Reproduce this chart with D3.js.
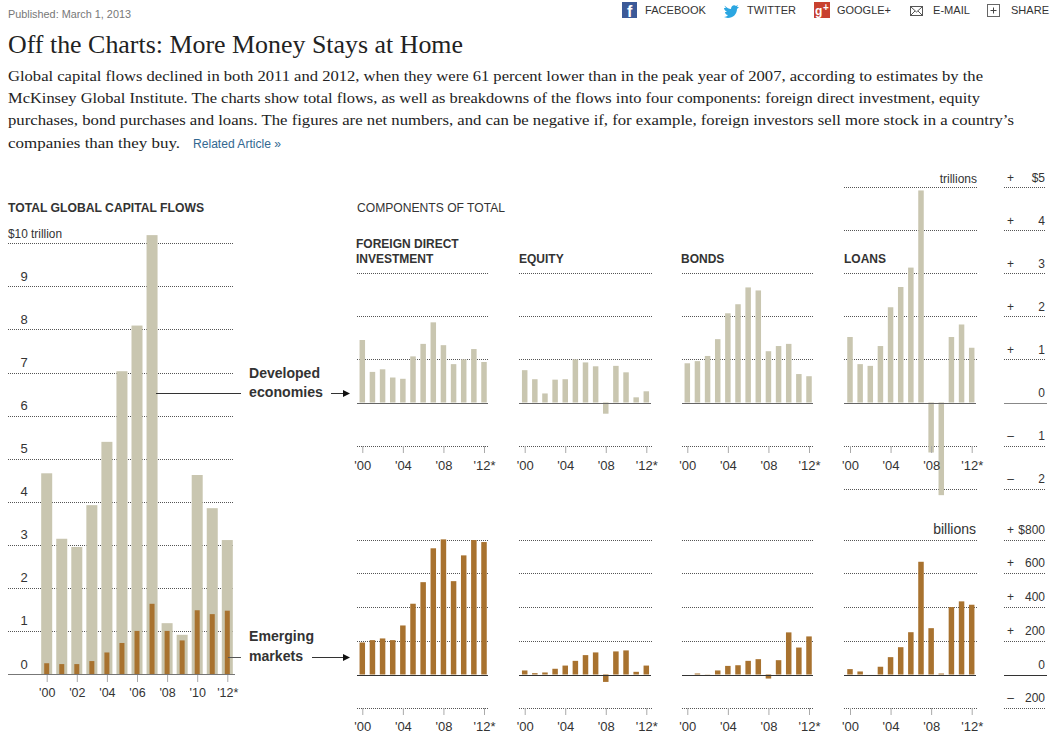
<!DOCTYPE html>
<html><head><meta charset="utf-8">
<script src="https://cdn.jsdelivr.net/npm/d3@7/dist/d3.min.js"></script>
<style>
html,body{margin:0;padding:0;background:#fff;overflow:hidden}
svg{display:block}
text{font-family:"Liberation Sans",Arial,sans-serif;fill:#333}
.serif{font-family:"Liberation Serif",Georgia,serif;fill:#222}
.bold{font-weight:bold}
.axis path{display:none}
</style></head><body>
<svg id="c" width="1054" height="743"></svg>
<script>
const years = d3.range(2000, 2013);
const tickYearsAll = [2000,2002,2004,2006,2008,2010,2012];
const tickYearsPanel = [2000,2004,2008,2012];

const totalDeveloped = [4.66,3.14,2.95,3.92,5.39,7.03,8.09,10.19,1.18,0.91,4.62,3.85,3.11];
const totalEmerging  = [0.25,0.23,0.23,0.30,0.50,0.72,1.00,1.63,1.00,0.78,1.48,1.39,1.47];

const fdiDeveloped   = [1.45,0.71,0.77,0.58,0.55,1.07,1.36,1.86,1.33,0.89,1.00,1.24,0.94];
const equityDeveloped= [0.75,0.54,0.21,0.53,0.54,1.00,0.93,0.84,-0.26,0.85,0.70,0.12,0.26];
const bondsDeveloped = [0.91,0.96,1.08,1.47,2.07,2.28,2.67,2.60,1.19,1.31,1.36,0.66,0.61];
const loansDeveloped = [1.52,0.89,0.85,1.31,2.21,2.68,3.13,4.92,-1.16,-2.15,1.52,1.81,1.27];

const fdiEmerging    = [190,204,214,204,291,420,548,749,802,554,707,798,786];
const equityEmerging = [24,8,12,34,53,81,115,131,-44,137,143,16,53];
const bondsEmerging  = [0,6,1,24,51,55,81,91,-24,85,250,160,226];
const loansEmerging  = [32,18,0,46,103,162,251,669,275,6,400,434,414];

const panelNames = ["fdi","equity","bonds","loans"];
const panelFirstX = [362.3,524.7,687.3,850];
const panelLastX  = [484,646.3,809,971.7];
const panelGridL  = [357,519,682,844];
const panelGridR  = [489,652,814,977];
const panelTitles = [["FOREIGN DIRECT","INVESTMENT"],["EQUITY"],["BONDS"],["LOANS"]];
const panelTitleX = [356,519,681,844];

const developedSeries = [fdiDeveloped,equityDeveloped,bondsDeveloped,loansDeveloped];
const emergingSeries  = [fdiEmerging,equityEmerging,bondsEmerging,loansEmerging];

const devGridNormal = [3,2,1,-1];
const devGridLoans  = [5,4,3,2,1,-1,-2];
const emGrid        = [800,600,400,200,-200];
const totalGrid     = [1,2,3,4,5,6,7,8,9,10];

const headLines = [
 "Global capital flows declined in both 2011 and 2012, when they were 61 percent lower than in the peak year of 2007, according to estimates by the",
 "McKinsey Global Institute. The charts show total flows, as well as breakdowns of the flows into four components: foreign direct investment, equity",
 "purchases, bond purchases and loans. The figures are net numbers, and can be negative if, for example, foreign investors sell more stock in a country\u2019s",
 "companies than they buy."
];
const headLineWidths = [975,972,1006,172];
const headLineY = [81,103,125,148];

const TAN = "#c9c6b0", BROWN = "#a8722f", DOT = "#555";
const svg = d3.select("#c");

function txt(x,y,s,size,opt={}){
  const t = svg.append("text").attr("x",x).attr("y",y).attr("font-size",size).text(s);
  if(opt.anchor) t.attr("text-anchor",opt.anchor);
  if(opt.cls) t.attr("class",opt.cls);
  if(opt.fill) t.style("fill",opt.fill);
  if(opt.len) t.attr("textLength",opt.len).attr("lengthAdjust","spacingAndGlyphs");
  if(opt.ls) t.attr("letter-spacing",opt.ls);
  return t;
}
const fmtYear = y => "'" + String(y).slice(2) + (y===2012 ? "*" : "");

/* Header */
txt(8,17.5,"Published: March 1, 2013",10.5,{fill:"#777",len:123});
txt(8,52.5,"Off the Charts: More Money Stays at Home",25,{cls:"serif",len:455});
headLines.forEach((l,i)=>txt(8,headLineY[i],l,15.5,{cls:"serif",len:headLineWidths[i]}));
txt(193,147.5,"Related Article \u00bb",12,{fill:"#326891",len:88});

/* Share bar */
const share = [["FACEBOOK",645,61],["TWITTER",747,49],["GOOGLE+",837,54],["E-MAIL",933,37],["SHARE",1011,38]];
share.forEach(d=>txt(d[1],14,d[0],11,{len:d[2],fill:"#333"}));
svg.append("rect").attr("x",622).attr("y",2).attr("width",15).attr("height",16).attr("fill","#3b5998");
txt(627,17,"f",16,{cls:"bold",fill:"#fff"});
svg.append("path").attr("fill","#2ba6e1")
  .attr("d","M725 6c2 2 4 3 6 3 0-3 3-5 5-3l2-1-1 2 2 0-2 2c0 5-4 9-9 9-2 0-3-1-4-1 2 0 3-1 4-2-2 0-3-2-3-3l2 0c-2-1-3-3-3-4l2 0c-1-1-2-3-1-2z");
svg.append("rect").attr("x",814).attr("y",2).attr("width",16).attr("height",16).attr("fill","#c8412f");
txt(815,15,"g",12,{cls:"bold",fill:"#fff"});
txt(823,11,"+",10,{cls:"bold",fill:"#fff"});
svg.append("rect").attr("x",910.5).attr("y",6.5).attr("width",12).attr("height",9).attr("fill","none").attr("stroke","#555");
svg.append("path").attr("d","M911 7l5.500 5 5.500-5M911 15l4-4M922 15l-4-4").attr("fill","none").attr("stroke","#555");
svg.append("rect").attr("x",987.5).attr("y",4.5).attr("width",12).attr("height",12).attr("fill","none").attr("stroke","#666");
svg.append("path").attr("d","M990.500 10.500h6M993.500 7.500v6").attr("fill","none").attr("stroke","#444");

/* Section titles */
txt(8,211.5,"TOTAL GLOBAL CAPITAL FLOWS",12,{cls:"bold",len:196});
txt(357,211.5,"COMPONENTS OF TOTAL",12,{len:148});

function grid(values,y,x0,x1){
  const g = svg.append("g").attr("class","grid");
  g.selectAll("line").data(values).join("line")
   .attr("x1",x0).attr("x2",x1)
   .attr("y1",d=>Math.round(y(d))+.5).attr("y2",d=>Math.round(y(d))+.5)
   .attr("stroke",DOT).attr("stroke-dasharray","1,1");
}
function bars(data,x,y,w,color){
  svg.append("g").selectAll("rect").data(data).join("rect")
   .attr("x",(d,i)=>x(years[i])-w/2).attr("width",w)
   .attr("y",d=>y(Math.max(0,d))).attr("height",d=>Math.abs(y(d)-y(0)))
   .attr("fill",color);
}
function baseline(y,x0,x1,color){
  svg.append("line").attr("x1",x0).attr("x2",x1)
   .attr("y1",Math.round(y(0))+.5).attr("y2",Math.round(y(0))+.5).attr("stroke",color);
}
function xAxis(x,ticks,yPos,len,pad,size){
  const ax = svg.append("g").attr("class","axis")
    .attr("transform",`translate(0,${yPos})`)
    .call(d3.axisBottom(x).tickValues(ticks).tickFormat(fmtYear).tickSize(len).tickPadding(pad));
  ax.selectAll("line").attr("stroke","#aaa");
  ax.selectAll("text").attr("font-size",size).attr("font-family",null).attr("fill",null);
  ax.attr("font-family",null).attr("font-size",null);
}

/* Left chart */
const xTotal = d3.scaleLinear().domain([2000,2012]).range([46.7,227.3]);
const yTotal = d3.scaleLinear().domain([0,10]).range([674,243.3]);
grid(totalGrid,yTotal,8,234);
bars(totalDeveloped,xTotal,yTotal,11,TAN);
bars(totalEmerging,xTotal,yTotal,5,BROWN);
baseline(yTotal,8,235,"#777");
xAxis(xTotal,tickYearsAll,675,7,6,12.5);
txt(8,238,"$10 trillion",12,{len:54});
totalGrid.filter(d=>d<10).concat([0]).forEach(v=>txt(24,yTotal(v)-5.5,String(v),13,{anchor:"middle"}));

/* Panels */
const yDev = d3.scaleLinear().domain([0,1]).range([402.5,359.4]);
const yEm  = d3.scaleLinear().domain([0,200]).range([674.5,640.8]);
panelNames.forEach((name,i)=>{
  const x = d3.scaleLinear().domain([2000,2012]).range([panelFirstX[i],panelLastX[i]]);
  grid(i===3?devGridLoans:devGridNormal,yDev,panelGridL[i],panelGridR[i]);
  bars(developedSeries[i],x,yDev,5.5,TAN);
  baseline(yDev,panelGridL[i],panelGridR[i]-1,"#666");
  xAxis(x,tickYearsPanel,446,7,8,13);

  grid(emGrid,yEm,panelGridL[i],panelGridR[i]);
  bars(emergingSeries[i],x,yEm,5.5,BROWN);
  baseline(yEm,panelGridL[i],panelGridR[i]-1,"#333");
  xAxis(x,tickYearsPanel,708,7,7,13);

  const lines = panelTitles[i];
  lines.forEach((l,k)=>txt(panelTitleX[i],262.500-(lines.length-1-k)*14.5,l,12,{cls:"bold"}));
});

/* Right scales */
const devRight = [[5,"$5"],[4,"4"],[3,"3"],[2,"2"],[1,"1"],[-1,"1"],[-2,"2"]];
grid(devRight.map(d=>d[0]),yDev,1004,1046);
baseline(yDev,1004,1047,"#888");
devRight.forEach(d=>{
  txt(1010.500,yDev(d[0])-5.500,d[0]>0?"+":"\u2013",12,{anchor:"middle"});
  txt(1045,yDev(d[0])-5.500,d[1],12,{anchor:"end"});
});
txt(1045,yDev(0)-5.500,"0",12,{anchor:"end"});
txt(977,182.500,"trillions",12,{anchor:"end"});

const emRight = [[800,"$800"],[600,"600"],[400,"400"],[200,"200"],[-200,"200"]];
grid(emRight.map(d=>d[0]),yEm,1004,1046);
baseline(yEm,1004,1047,"#333");
emRight.forEach(d=>{
  txt(1010.500,yEm(d[0])-6,d[0]>0?"+":"\u2013",12,{anchor:"middle"});
  txt(1045,yEm(d[0])-6,d[1],12,{anchor:"end"});
});
txt(1045,yEm(0)-6,"0",12,{anchor:"end"});
txt(976,534,"billions",14,{anchor:"end"});

/* Annotations */
function arrow(x0,x1,y){
  svg.append("line").attr("x1",x0).attr("x2",x1-4).attr("y1",y).attr("y2",y).attr("stroke","#333");
  svg.append("path").attr("d",`M${x1} ${y}l-7-3.500v7z`).attr("fill","#111");
}
txt(249,378,"Developed",14,{cls:"bold",len:71});
txt(249,397,"economies",14,{cls:"bold",len:74});
txt(249,641,"Emerging",14,{cls:"bold",len:65});
txt(249,661,"markets",14,{cls:"bold",len:54});
svg.append("line").attr("x1",156).attr("x2",241).attr("y1",393.5).attr("y2",393.5).attr("stroke","#333");
arrow(331,350,393.5);
svg.append("line").attr("x1",228).attr("x2",241).attr("y1",657.5).attr("y2",657.5).attr("stroke","#555");
arrow(312,350,657.5);
</script>
</body></html>
